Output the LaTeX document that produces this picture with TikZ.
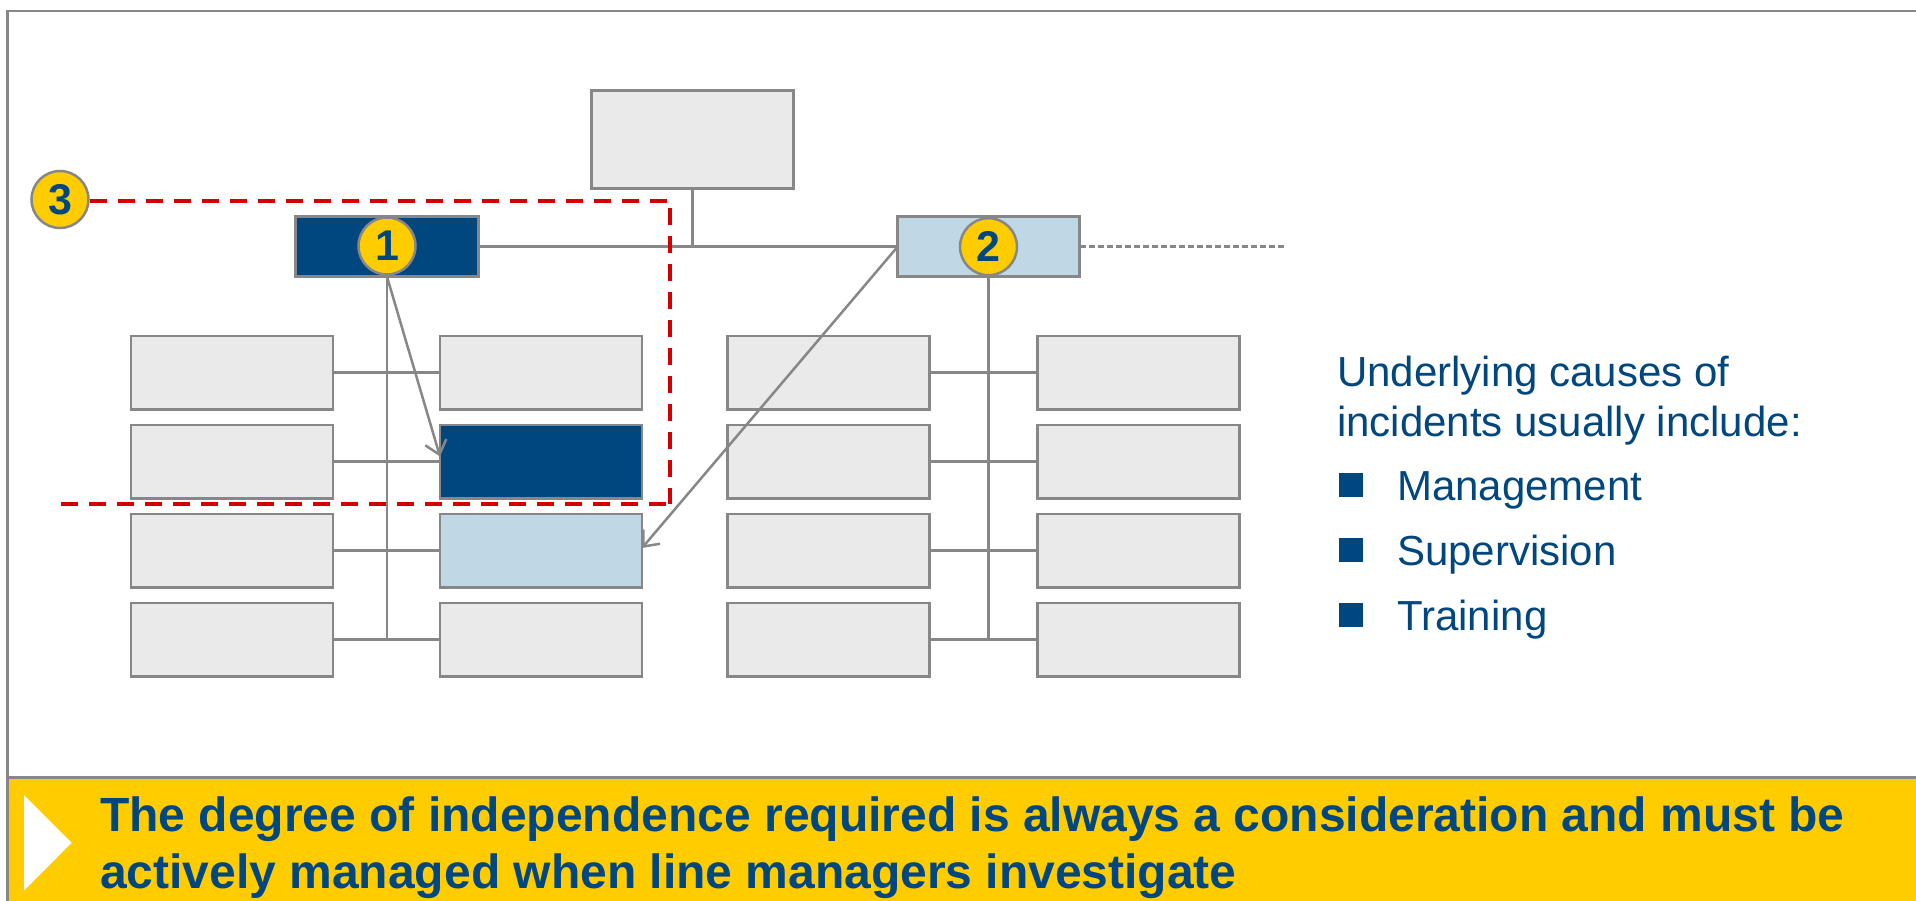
\documentclass[tikz,border=0pt]{standalone}
\usepackage{fontspec}
\setmainfont{Liberation Sans}
\usetikzlibrary{arrows.meta}
\definecolor{dblue}{HTML}{00467F}
\definecolor{lblue}{HTML}{C0D8E6}
\definecolor{bgray}{HTML}{EAEAEA}
\definecolor{lgray}{HTML}{878787}
\definecolor{yel}{HTML}{FFCC00}
\definecolor{rred}{HTML}{D40000}
\begin{document}
\begin{tikzpicture}[x=1pt,y=-1pt,
 orgbox/.style={draw=lgray,line width=2.5pt,fill=bgray,inner sep=0pt,outer sep=0pt,minimum width=202pt,minimum height=73.5pt},
 mgrbox/.style={draw=lgray,line width=2.5pt,inner sep=0pt,outer sep=0pt,minimum width=183pt,minimum height=60pt},
 badge/.style={circle,draw=lgray,line width=2.5pt,fill=yel,minimum size=57pt,inner sep=0pt,text=dblue,font=\fontsize{43}{43}\selectfont\bfseries},
 conn/.style={draw=lgray,line width=2.5pt},
 arr/.style={conn,-{Straight Barb[length=13pt,width=22pt,line width=2.5pt]}},
 redline/.style={draw=rred,line width=4pt,dash pattern=on 17pt off 11pt},
 bodytext/.style={text=dblue,font=\fontsize{42}{50}\selectfont,inner sep=0pt,anchor=base west},
 bannertext/.style={text=dblue,font=\fontsize{48}{56}\selectfont\bfseries,inner sep=0pt,anchor=base west},
 bulletsq/.style={fill=dblue,minimum size=24pt,inner sep=0pt,outer sep=0pt}
]
\useasboundingbox (0,0) rectangle (1916,901);
\fill[white] (0,0) rectangle (1916,901);
% banner
\fill[yel] (9,779) rectangle (1916,901);
\draw[lgray,line width=2.5pt] (7.5,777.7) -- (1916,777.7);
\draw[lgray,line width=2.5pt] (7.5,901) -- (7.5,11) -- (1916,11);
\fill[white] (24,795) -- (71.7,842.7) -- (24,890.7) -- cycle;
\node[bannertext] (b1) at (100,831.7) {The degree of independence required is always a consideration and must be};
\node[bannertext] (b2) at (100,888) {actively managed when line managers investigate};

% boxes
\node[orgbox,minimum height=98pt] (top) at (692.5,139.5) {};
\node[mgrbox,fill=dblue] (m1) at (387,246.7) {};
\node[mgrbox,fill=lblue,minimum width=182pt] (m2) at (988.6,246.7) {};

\foreach \i/\y in {1/372.5,2/461.5,3/550.5,4/639.5}{
  \node[orgbox] (A\i) at (231.75,\y) {};
  \node[orgbox] (C\i) at (828.5,\y) {};
  \node[orgbox] (D\i) at (1138.5,\y) {};
}
\node[orgbox] (B1) at (541,372.5) {};
\node[orgbox,fill=dblue] (B2) at (541,461.5) {};
\node[orgbox,fill=lblue] (B3) at (541,550.5) {};
\node[orgbox] (B4) at (541,639.5) {};

% connectors
\draw[conn] (top.south) -- (top.south |- m1.east);
\draw[conn] (m1.east) -- (m2.west);
\coordinate (dend) at (1286,246.7);
\draw[conn,dash pattern=on 6pt off 3pt] (m2.east) -- (dend);
\draw[conn] (m1.south) -- (m1.south |- A4.east);
\draw[conn] (m2.south) -- (m2.south |- C4.east);
\foreach \i in {1,2,3,4}{
  \draw[conn] (A\i.east) -- (B\i.west);
  \draw[conn] (C\i.east) -- (D\i.west);
}
\draw[arr] (m1.south) -- ([yshift=5pt]B2.west);
\draw[arr] (m2.west) -- ([yshift=2.5pt]B3.east);

% badges
\node[badge] (c1) at (387,246) {1};
\node[badge] (c2) at (988.5,246.7) {2};
\node[badge] (c3) at (60,199.5) {3};

% red dashed boundary
\coordinate (r1) at (670,200.7);
\coordinate (r2) at (670,504.3);
\coordinate (r3) at (61,504.3);
\draw[redline] (c3.east |- r1) -- (r1) -- (r2);
\draw[redline] (r3) -- (r2);

% right text
\node[bodytext] (t1) at (1337,386) {Underlying causes of};
\node[bodytext] (t2) at (1337,436.7) {incidents usually include:};
\node[bulletsq] (s1) at (1350.5,485) {};
\node[bulletsq] (s2) at (1350.5,550) {};
\node[bulletsq] (s3) at (1350.5,614.5) {};
\node[bodytext] (l1) at (1397,500.7) {Management};
\node[bodytext] (l2) at (1397,565) {Supervision};
\node[bodytext] (l3) at (1397,630) {Training};
\end{tikzpicture}
\end{document}
